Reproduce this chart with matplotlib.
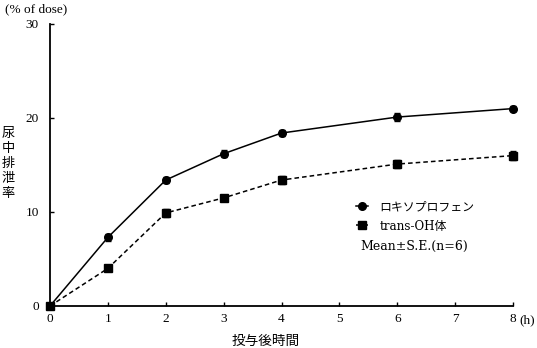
import numpy as np
import matplotlib
matplotlib.use("Agg")
import matplotlib.pyplot as plt
from matplotlib.lines import Line2D

plt.rcParams['font.family'] = ['DejaVu Serif', 'Noto Sans CJK JP']

# データ
hours = [0, 1, 2, 3, 4, 6, 8]
loxo_mean = [0, 7.3, 13.4, 16.2, 18.4, 20.1, 21.0]
loxo_se = [0, 0.4, 0.3, 0.4, 0.3, 0.4, 0.3]
trans_mean = [0, 4.0, 9.9, 11.5, 13.4, 15.1, 16.0]
trans_se = [0, 0.3, 0.4, 0.3, 0.4, 0.4, 0.5]

legend_labels = ["ロキソプロフェン", "trans-OH体"]
x_ticks = [0, 1, 2, 3, 4, 5, 6, 7, 8]
y_ticks = [0, 10, 20, 30]

tick_font = ['Liberation Serif', 'Noto Sans CJK JP']

fig = plt.figure(figsize=(5.37, 3.48), dpi=100)
ax = fig.add_axes([50 / 537, 1 - 306 / 348, 463 / 537, 282 / 348])

ax.errorbar(hours, loxo_mean, yerr=loxo_se, color="black", lw=1.1,
            marker="o", ms=5.5, capsize=2, elinewidth=0.8,
            clip_on=False, zorder=3)
ax.errorbar(hours, trans_mean, yerr=trans_se, color="black", lw=1.1,
            ls=(0, (3, 2)), marker="s", ms=5.5, capsize=2, elinewidth=0.8,
            clip_on=False, zorder=3)

ax.set_xlim(0, 8)
ax.set_ylim(0, 30)
ax.set_xticks(x_ticks)
ax.set_yticks(y_ticks)
ax.spines["top"].set_visible(False)
ax.spines["right"].set_visible(False)
for s in ["left", "bottom"]:
    ax.spines[s].set_linewidth(1.3)
ax.tick_params(axis="both", direction="in", length=3, width=1, labelsize=9.5)
ax.tick_params(axis="x", pad=5)
ax.tick_params(axis="y", pad=8)
for lab in ax.get_xticklabels() + ax.get_yticklabels():
    lab.set_family(tick_font)

fig.text(5 / 537, 1 - 9 / 348, "(% of dose)", fontsize=9.5, va="center",
         ha="left", family=tick_font)
fig.text(519 / 537, 1 - 320 / 348, "(h)", fontsize=9.5, va="center", ha="left",
         family=tick_font)
fig.text(266 / 537, 1 - 341 / 348, "投与後時間", fontsize=9.8, va="center",
         ha="center")
fig.text(8 / 537, 1 - 163 / 348, "尿\n中\n排\n泄\n率", fontsize=9.5,
         va="center", ha="center", linespacing=1.2)

handles = [
    Line2D([], [], color="black", lw=1.1, marker="o", ms=5.5),
    Line2D([], [], color="black", lw=1.1, ls=(0, (3, 2)), marker="s", ms=5.5),
]
ax.legend(handles=handles, labels=legend_labels, loc="upper left",
          bbox_to_anchor=(356 / 537, 1 - 200 / 348),
          bbox_transform=fig.transFigure, frameon=False,
          handlelength=1.0, handletextpad=0.95, labelspacing=0.55,
          fontsize=8.6, borderaxespad=0, borderpad=0)
fig.text(360 / 537, 1 - 246 / 348, "Mean±S.E.(n=6)", fontsize=9.0,
         va="center", ha="left")

fig.savefig("out.png", dpi=100)
